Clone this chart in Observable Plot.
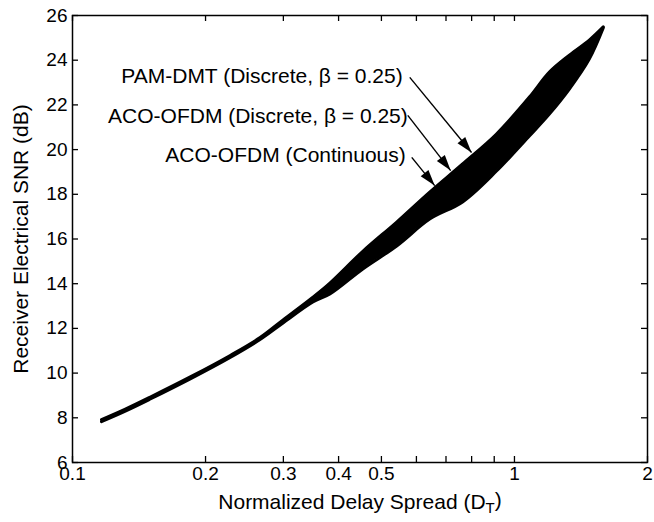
<!DOCTYPE html>
<html>
<head>
<meta charset="utf-8">
<script src="https://cdn.jsdelivr.net/npm/d3@7"></script>
<script src="https://cdn.jsdelivr.net/npm/@observablehq/plot@0.6"></script>
<style>
  html, body { margin: 0; padding: 0; background: #fff; }
  #chart { width: 654px; height: 522px; }
</style>
</head>
<body>
<div id="chart"></div>
<script>
// ---- Data ----
// normalized delay spread (x) and the upper/lower envelope of the SNR curves (dB)
const delaySpread = [0.1163, 0.1317, 0.1500, 0.1847, 0.2274, 0.2657, 0.2995, 0.3499, 0.3823, 0.4538, 0.5415, 0.6430, 0.7632, 0.9107, 1.0810, 1.1995, 1.3312, 1.4768, 1.5882];
const snrUpper    = [7.92, 8.39, 8.93, 9.83, 10.79, 11.59, 12.38, 13.40, 14.03, 15.45, 16.76, 18.10, 19.36, 20.70, 22.35, 23.47, 24.23, 24.90, 25.49];
const snrLower    = [7.83, 8.30, 8.84, 9.74, 10.70, 11.50, 12.24, 13.18, 13.54, 14.66, 15.69, 16.89, 17.66, 19.04, 20.61, 21.59, 22.71, 24.05, 25.44];

const xTicks      = [0.1, 0.2, 0.3, 0.4, 0.5, 0.6, 0.7, 0.8, 0.9, 1, 2];
const xTickLabels = ["0.1", "0.2", "0.3", "0.4", "0.5", "", "", "", "", "1", "2"];
const yTicks      = [6, 8, 10, 12, 14, 16, 18, 20, 22, 24, 26];

const yLabel = "Receiver Electrical SNR (dB)";
const xLabelMain = "Normalized Delay Spread (D";
const xLabelSub = "T";
const xLabelEnd = ")";

const annotationText = ["PAM-DMT (Discrete, β = 0.25)", "ACO-OFDM (Discrete, β = 0.25)", "ACO-OFDM (Continuous)"];
const annotationX    = [0.5587, 0.5736, 0.5676];
const annotationY    = [23.00, 21.19, 19.45];
const arrowFromX     = [0.5796, 0.5736, 0.5856];
const arrowFromY     = [23.23, 21.53, 19.65];
const arrowToX       = [0.7996, 0.7172, 0.6599];
const arrowToY       = [19.87, 19.06, 18.39];

// ---- Tables built from the arrays ----
const band = delaySpread.map((x, i) => ({x, hi: snrUpper[i], lo: snrLower[i]}));
const notes = annotationText.map((t, i) => ({t, x: annotationX[i], y: annotationY[i]}));
const arrows = annotationText.map((t, i) => ({x1: arrowFromX[i], y1: arrowFromY[i], x2: arrowToX[i], y2: arrowToY[i]}));

const W = 654, H = 522;
const mL = 72, mR = 7, mT = 15, mB = 60;
const plotW = W - mL - mR, plotH = H - mT - mB;
const tickLen = 6;
const font = "'Liberation Sans', Arial, Helvetica, sans-serif";
const curve = "catmull-rom";

const chart = Plot.plot({
  width: W,
  height: H,
  marginLeft: mL,
  marginRight: mR,
  marginTop: mT,
  marginBottom: mB,
  style: {fontFamily: font, fontSize: "19px", color: "black", background: "white", overflow: "visible"},
  x: {type: "log", domain: [0.1, 2]},
  y: {domain: [6, 26]},
  marks: [
    // band of curves
    Plot.areaY(band, {x: "x", y1: "lo", y2: "hi", fill: "black", curve}),
    Plot.line(band, {x: "x", y: "hi", stroke: "black", strokeWidth: 3, strokeLinecap: "round", strokeLinejoin: "round", curve}),
    Plot.line(band, {x: "x", y: "lo", stroke: "black", strokeWidth: 3, strokeLinecap: "round", strokeLinejoin: "round", curve}),
    // inward ticks on all four sides
    Plot.tickX(xTicks, {x: d => d, insetTop: plotH - tickLen, stroke: "black", strokeWidth: 1.3}),
    Plot.tickX(xTicks, {x: d => d, insetBottom: plotH - tickLen, stroke: "black", strokeWidth: 1.3}),
    Plot.tickY(yTicks, {y: d => d, insetRight: plotW - tickLen, stroke: "black", strokeWidth: 1.3}),
    Plot.tickY(yTicks, {y: d => d, insetLeft: plotW - tickLen, stroke: "black", strokeWidth: 1.3}),
    Plot.frame({stroke: "black", strokeWidth: 1.5}),
    // tick labels
    Plot.axisX({ticks: xTicks, tickFormat: d => xTickLabels[xTicks.indexOf(d)], tickSize: 0, tickPadding: 4, label: null, fontSize: 19}),
    Plot.axisY({ticks: yTicks, tickSize: 0, tickPadding: 5, label: null, fontSize: 19}),
    // axis titles
    Plot.text([xLabelMain + xLabelSub + xLabelEnd], {frameAnchor: "bottom", textAnchor: "middle", dy: 46, lineAnchor: "bottom", fontSize: 21, fill: "black"}),
    Plot.text([yLabel], {frameAnchor: "left", textAnchor: "middle", lineAnchor: "middle", rotate: -90, dx: -51, fontSize: 21, fill: "black"}),
    // annotations
    Plot.link(arrows, {x1: "x1", y1: "y1", x2: "x2", y2: "y2", stroke: "black", strokeWidth: 1.4, markerEnd: "arrow"}),
    Plot.text(notes, {x: "x", y: "y", text: "t", textAnchor: "end", lineAnchor: "bottom", fontSize: 21, fill: "black"})
  ]
});

// filled triangular arrowheads
d3.select(chart).selectAll("marker")
  .attr("viewBox", "-17 -6 18 12")
  .attr("markerUnits", "userSpaceOnUse")
  .attr("markerWidth", 18)
  .attr("markerHeight", 12)
  .attr("fill", "black")
  .attr("stroke", "none")
  .selectAll("path")
  .attr("d", "M-16,-5L0,0L-16,5Z");

// subscript in the x-axis title
d3.select(chart).selectAll("text").each(function() {
  if (this.textContent === xLabelMain + xLabelSub + xLabelEnd) {
    const t = d3.select(this);
    t.text(null);
    t.append("tspan").text(xLabelMain);
    t.append("tspan").attr("dy", "0.3em").attr("font-size", "15px").text(xLabelSub);
    t.append("tspan").attr("dy", "-0.3em").text(xLabelEnd);
  }
});

document.getElementById("chart").appendChild(chart);
</script>
</body>
</html>
